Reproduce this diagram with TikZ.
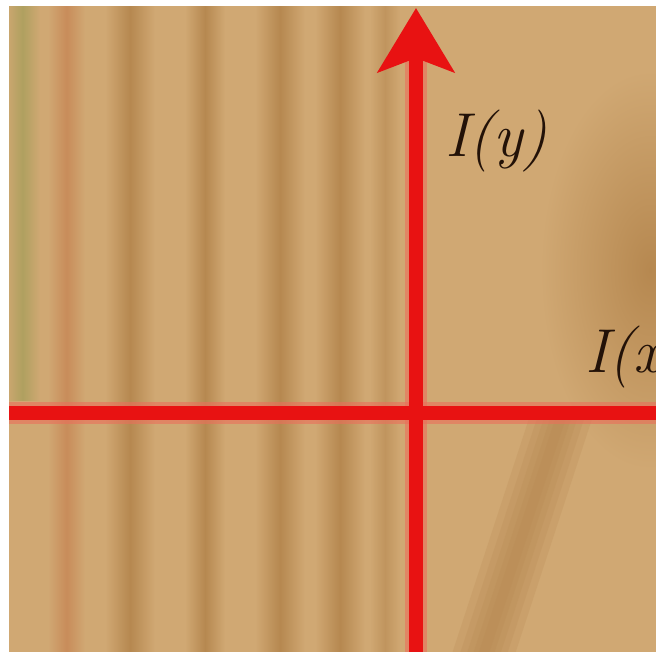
\documentclass[tikz,border=0pt]{standalone}
\usetikzlibrary{arrows.meta}
\definecolor{woodbase}{RGB}{208,168,115}
\definecolor{wooddark}{RGB}{182,136,80}
\definecolor{woodolive}{RGB}{175,160,95}
\definecolor{axisred}{RGB}{232,18,18}
\definecolor{glowred}{RGB}{235,110,90}
\definecolor{inkbrown}{RGB}{35,18,8}
\tikzset{
  band/.style={left color=woodbase, right color=woodbase, middle color=wooddark},
  blob/.style={inner color=wooddark, outer color=woodbase},
  streak/.style={draw=wooddark, opacity=0.22, line cap=butt},
  axisglow/.style={draw=glowred, line width=22pt, opacity=0.6},
  axisline/.style={draw=axisred, line width=14pt},
  lbl/.style={text=inkbrown, font=\fontsize{62}{62}\selectfont\itshape, inner sep=0pt, anchor=base west}
}
\begin{document}
\begin{tikzpicture}[x=1pt,y=-1pt]
\useasboundingbox (0,0) rectangle (656,652);
\begin{scope}
  \clip (9,7) rectangle (656,652);
  \fill[woodbase] (0,0) rectangle (660,660);
  \shade[left color=woodbase, right color=woodbase, middle color=woodolive] (5,0) rectangle (40,400);
  \shade[left color=woodbase, right color=woodbase, middle color={rgb,255:red,200;green,140;blue,90}] (48,0) rectangle (85,660);
  \shade[band] (105,0) rectangle (155,660);
  \shade[band] (185,0) rectangle (225,660);
  \shade[band] (255,0) rectangle (305,660);
  \shade[band] (315,0) rectangle (365,660);
  \shade[band, opacity=0.6] (370,0) rectangle (400,660);
  \shade[blob] (650,270) ellipse (110pt and 200pt);
  \begin{scope}
    \clip (420,413) rectangle (660,660);
    \foreach \w in {60,45,32,20,10} {
      \draw[streak, line width=\w pt] (565,405) -- (475,680);
    }
  \end{scope}
\end{scope}
\coordinate (ybot) at (416,652);
\coordinate (ytop) at (416,8);
\coordinate (xl) at (9,413);
\coordinate (xr) at (656,413);
\draw[axisglow] (xl) -- (xr);
\draw[axisglow] (ybot) -- (416,60);
\draw[axisline] (xl) -- (xr);
\draw[axisline, -{Stealth[length=64pt,width=76pt,inset=14pt]}] (ybot) -- (ytop);
\begin{scope}
  \clip (0,0) rectangle (656,652);
  \node[lbl] (ly) at (445,157) {I(y)};
  \node[lbl] (lx) at (585,372) {I(x)};
\end{scope}
\end{tikzpicture}
\end{document}
